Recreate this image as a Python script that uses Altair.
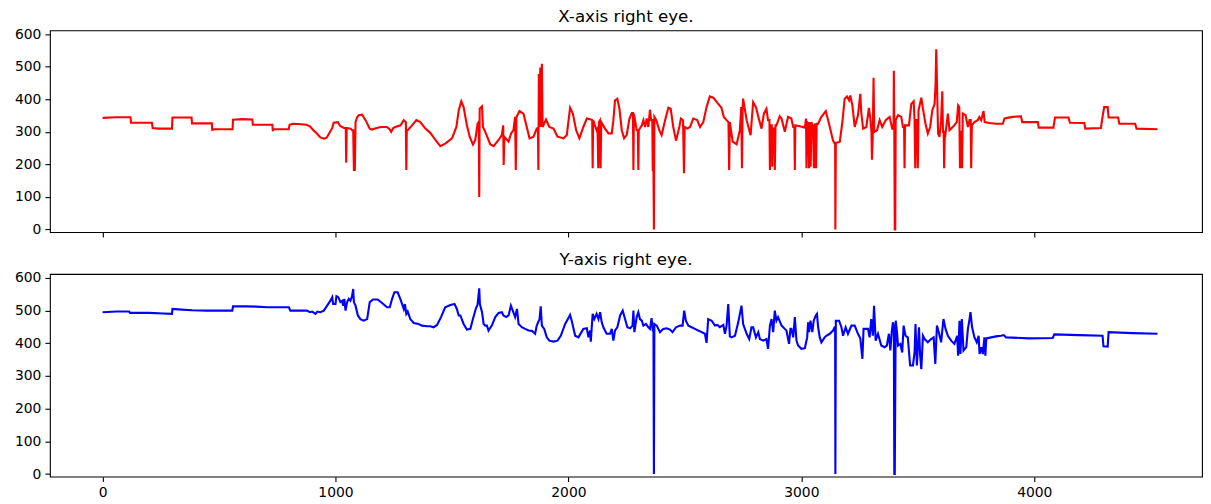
import altair as alt
import pandas as pd

# ---- X-axis (red) trace: sample index / gaze x ----
red_x = [0, 60, 120, 122, 212, 215, 240, 298, 300, 382, 384, 469, 471, 480, 558, 560, 600, 643, 645, 729,
         731, 734, 799, 803, 815, 840, 876, 890, 905, 920, 935, 950, 962, 975, 986, 992, 1010, 1020, 1036, 1044,
         1046, 1048, 1065, 1071, 1076, 1079, 1083, 1086, 1093, 1100, 1114, 1129, 1147, 1157, 1170, 1193, 1221, 1232, 1239, 1248,
         1257, 1279, 1293, 1302, 1304, 1306, 1310, 1325, 1347, 1364, 1386, 1407, 1429, 1450, 1471, 1500, 1519, 1529, 1540, 1550,
         1564, 1576, 1590, 1600, 1610, 1615, 1617, 1619, 1629, 1633, 1643, 1664, 1679, 1700, 1714, 1720, 1722, 1725, 1743, 1754,
         1764, 1771, 1774, 1777, 1790, 1807, 1821, 1833, 1850, 1864, 1869, 1871, 1873, 1875, 1879, 1881, 1886, 1889, 1904, 1918,
         1936, 1953, 1979, 1993, 2007, 2019, 2033, 2047, 2064, 2079, 2096, 2102, 2104, 2106, 2121, 2125, 2128, 2131, 2135, 2138,
         2141, 2157, 2172, 2186, 2193, 2200, 2210, 2219, 2229, 2239, 2250, 2262, 2272, 2277, 2279, 2281, 2293, 2298, 2300, 2302,
         2315, 2322, 2329, 2336, 2343, 2350, 2355, 2360, 2362, 2365, 2367, 2369, 2377, 2390, 2400, 2415, 2429, 2439, 2450, 2462,
         2476, 2483, 2492, 2496, 2499, 2510, 2522, 2536, 2553, 2565, 2579, 2593, 2607, 2622, 2643, 2657, 2667, 2679, 2687, 2690,
         2693, 2705, 2722, 2736, 2742, 2745, 2748, 2750, 2765, 2782, 2793, 2805, 2819, 2829, 2839, 2850, 2857, 2863, 2865, 2867,
         2873, 2875, 2878, 2884, 2886, 2889, 2893, 2907, 2915, 2929, 2943, 2957, 2965, 2970, 2972, 2974, 2993, 3015, 3020, 3022,
         3025, 3030, 3033, 3036, 3040, 3043, 3050, 3054, 3057, 3060, 3063, 3066, 3072, 3086, 3105, 3122, 3136, 3143, 3145, 3146,
         3148, 3150, 3165, 3176, 3186, 3196, 3205, 3210, 3219, 3229, 3243, 3253, 3257, 3265, 3279, 3290, 3296, 3301, 3303, 3306,
         3310, 3313, 3325, 3336, 3347, 3362, 3379, 3390, 3396, 3397, 3399, 3401, 3403, 3405, 3415, 3429, 3436, 3441, 3443, 3445,
         3462, 3472, 3482, 3486, 3489, 3492, 3497, 3500, 3503, 3515, 3522, 3533, 3543, 3553, 3562, 3572, 3576, 3579, 3582, 3587,
         3593, 3600, 3605, 3608, 3611, 3613, 3616, 3619, 3629, 3636, 3653, 3667, 3673, 3678, 3681, 3684, 3687, 3690, 3693, 3705,
         3715, 3722, 3727, 3729, 3732, 3743, 3757, 3764, 3772, 3782, 3787, 3807, 3836, 3865, 3872, 3907, 3943, 3948, 4015, 4019,
         4082, 4089, 4147, 4153, 4215, 4219, 4286, 4293, 4300, 4315, 4319, 4360, 4365, 4433, 4439, 4529]
red_y = [343, 345, 345, 328, 328, 312, 310, 310, 344, 344, 326, 326, 306, 308, 308, 337, 339, 338, 322, 322,
         302, 308, 308, 322, 325, 324, 322, 317, 305, 295, 283, 279, 282, 298, 312, 328, 330, 318, 312, 312,
         205, 312, 310, 305, 305, 183, 183, 330, 345, 351, 353, 336, 310, 307, 310, 315, 315, 308, 300, 312,
         315, 320, 336, 330, 183, 305, 305, 317, 336, 330, 310, 297, 275, 256, 264, 280, 315, 366, 394, 376,
         320, 285, 261, 275, 325, 330, 100, 371, 378, 315, 300, 262, 256, 275, 290, 320, 198, 285, 270, 295,
         305, 346, 183, 346, 364, 356, 315, 280, 285, 310, 312, 183, 478, 315, 498, 315, 509, 315, 338, 315,
         310, 285, 280, 290, 374, 356, 305, 280, 315, 341, 338, 336, 188, 336, 305, 310, 188, 330, 335, 188,
         330, 310, 295, 295, 336, 397, 402, 371, 305, 280, 290, 341, 358, 358, 183, 356, 305, 305, 183, 305,
         320, 336, 315, 341, 315, 368, 336, 336, 183, 183, 0, 346, 336, 305, 290, 336, 374, 371, 315, 273,
         315, 341, 336, 173, 315, 310, 315, 341, 336, 315, 330, 376, 409, 405, 386, 374, 346, 336, 330, 183,
         330, 270, 262, 305, 376, 188, 376, 402, 336, 290, 391, 376, 336, 310, 356, 371, 336, 336, 183, 320,
         320, 193, 310, 310, 183, 320, 320, 348, 341, 300, 346, 341, 315, 315, 183, 320, 317, 313, 341, 188,
         330, 325, 188, 330, 193, 330, 315, 188, 325, 320, 188, 325, 325, 346, 364, 315, 273, 264, 264, 0,
         266, 266, 270, 330, 402, 409, 397, 412, 381, 315, 351, 417, 361, 310, 315, 374, 341, 300, 214, 275,
         466, 300, 305, 336, 315, 336, 346, 310, 310, 488, 300, 0, 0, 336, 351, 346, 315, 315, 188, 320,
         320, 386, 394, 336, 188, 336, 336, 188, 366, 405, 371, 325, 295, 315, 366, 386, 442, 554, 458, 295,
         285, 336, 425, 300, 300, 188, 300, 295, 356, 305, 317, 330, 381, 376, 188, 300, 300, 188, 356, 351,
         315, 336, 336, 188, 320, 330, 336, 346, 336, 364, 330, 327, 325, 325, 341, 346, 348, 330, 330, 313,
         313, 344, 344, 328, 327, 310, 312, 346, 376, 376, 344, 344, 325, 325, 310, 308]

# ---- Y-axis (blue) trace ----
blue_x = [0, 60, 114, 118, 200, 260, 298, 300, 340, 385, 450, 557, 560, 620, 660, 707, 800, 806, 878, 890,
          900, 914, 922, 935, 950, 964, 979, 986, 990, 1000, 1004, 1012, 1021, 1028, 1033, 1038, 1043, 1050, 1057, 1064,
          1071, 1076, 1079, 1086, 1096, 1107, 1121, 1136, 1147, 1161, 1181, 1200, 1221, 1233, 1243, 1253, 1267, 1279, 1286, 1293,
          1298, 1304, 1310, 1321, 1336, 1357, 1371, 1393, 1407, 1421, 1436, 1453, 1471, 1493, 1511, 1521, 1529, 1536, 1550, 1564,
          1579, 1590, 1603, 1610, 1617, 1620, 1629, 1636, 1643, 1650, 1657, 1671, 1686, 1700, 1714, 1721, 1733, 1743, 1753, 1761,
          1771, 1779, 1786, 1800, 1814, 1829, 1843, 1857, 1864, 1876, 1881, 1886, 1896, 1907, 1918, 1936, 1953, 1967, 1986, 2000,
          2007, 2014, 2029, 2043, 2064, 2079, 2086, 2093, 2096, 2104, 2111, 2121, 2129, 2136, 2143, 2150, 2164, 2179, 2186, 2193,
          2200, 2210, 2222, 2233, 2243, 2253, 2265, 2275, 2279, 2283, 2293, 2300, 2307, 2315, 2322, 2333, 2343, 2350, 2357, 2362,
          2365, 2367, 2369, 2379, 2393, 2407, 2422, 2436, 2447, 2462, 2479, 2490, 2497, 2504, 2515, 2529, 2543, 2557, 2572, 2586,
          2593, 2600, 2615, 2629, 2640, 2650, 2665, 2672, 2679, 2686, 2693, 2700, 2715, 2729, 2743, 2750, 2765, 2776, 2786, 2793,
          2805, 2815, 2822, 2836, 2850, 2857, 2865, 2872, 2879, 2886, 2893, 2900, 2915, 2929, 2936, 2947, 2953, 2957, 2965, 2972,
          2979, 2986, 3000, 3015, 3025, 3029, 3033, 3039, 3047, 3053, 3062, 3067, 3072, 3079, 3086, 3100, 3107, 3122, 3136, 3143,
          3145, 3146, 3148, 3162, 3172, 3179, 3190, 3200, 3215, 3229, 3243, 3253, 3262, 3267, 3286, 3293, 3300, 3307, 3312, 3319,
          3329, 3343, 3357, 3367, 3376, 3382, 3388, 3393, 3397, 3399, 3401, 3405, 3410, 3415, 3425, 3433, 3439, 3447, 3457, 3467,
          3479, 3486, 3490, 3496, 3505, 3510, 3515, 3522, 3529, 3543, 3557, 3568, 3575, 3582, 3590, 3600, 3610, 3619, 3629, 3643,
          3657, 3669, 3673, 3679, 3683, 3689, 3696, 3708, 3715, 3722, 3726, 3733, 3743, 3753, 3761, 3765, 3772, 3779, 3786, 3790,
          3794, 3815, 3836, 3857, 3869, 3879, 3979, 4079, 4086, 4193, 4293, 4297, 4315, 4319, 4422, 4529]
blue_y = [495, 497, 497, 493, 493, 491, 490, 505, 503, 501, 500, 500, 513, 513, 512, 510, 510, 500, 500, 495,
          497, 490, 497, 495, 500, 515, 531, 541, 520, 520, 544, 541, 526, 530, 515, 536, 500, 526, 536, 530,
          544, 566, 526, 515, 485, 474, 469, 474, 526, 534, 534, 523, 510, 510, 536, 556, 556, 534, 520, 505,
          520, 490, 497, 474, 462, 459, 454, 452, 452, 449, 456, 480, 510, 517, 520, 505, 485, 485, 459, 442,
          444, 474, 507, 518, 568, 520, 495, 459, 454, 454, 439, 454, 480, 493, 495, 485, 480, 485, 515, 500,
          480, 505, 459, 449, 444, 439, 438, 429, 454, 474, 513, 454, 444, 418, 408, 405, 408, 423, 459, 477,
          487, 469, 423, 418, 444, 446, 418, 439, 405, 490, 474, 490, 474, 495, 464, 449, 429, 429, 444, 408,
          439, 449, 485, 500, 474, 449, 446, 454, 500, 434, 480, 495, 474, 469, 454, 459, 449, 444, 477, 439,
          439, 0, 459, 454, 434, 444, 446, 442, 434, 449, 454, 454, 500, 469, 454, 449, 444, 439, 434, 429,
          401, 474, 469, 454, 456, 449, 456, 429, 454, 520, 421, 418, 423, 464, 515, 459, 429, 413, 449, 449,
          418, 434, 413, 408, 413, 383, 454, 474, 434, 500, 469, 480, 454, 444, 439, 398, 444, 444, 418, 480,
          408, 393, 383, 385, 418, 464, 434, 469, 434, 469, 485, 490, 449, 418, 403, 418, 423, 429, 439, 449,
          449, 0, 469, 469, 449, 423, 449, 429, 454, 454, 429, 415, 352, 444, 444, 418, 474, 423, 515, 408,
          429, 393, 388, 393, 429, 378, 434, 464, 454, 0, 0, 469, 439, 393, 398, 372, 454, 423, 418, 332,
          332, 372, 459, 332, 449, 362, 321, 423, 413, 403, 413, 418, 337, 454, 434, 403, 474, 444, 423, 408,
          398, 423, 362, 469, 367, 474, 378, 388, 444, 474, 495, 449, 418, 403, 423, 367, 388, 367, 418, 362,
          415, 418, 421, 423, 425, 418, 415, 416, 427, 425, 423, 391, 390, 434, 431, 429]

x_ticks = [0, 1000, 2000, 3000, 4000]
y_ticks = [0, 100, 200, 300, 400, 500, 600]
titles = ["X-axis right eye.", "Y-axis right eye."]

red_df = pd.DataFrame({"t": red_x, "v": red_y})
blue_df = pd.DataFrame({"t": blue_x, "v": blue_y})

FONT = "DejaVu Sans"
x_dom = [-226, 4720]
y_dom = [-8, 612]
PLOT_W = 1154


def panel(df, color, title, show_labels, h):
    return alt.Chart(df, title=alt.TitleParams(title, fontSize=16.7, font=FONT, fontWeight="normal",
                                               color="black", offset=2)).mark_line(
        color=color, strokeWidth=2.1, clip=True
    ).encode(
        x=alt.X("t:Q", scale=alt.Scale(domain=x_dom, nice=False, zero=False),
                axis=alt.Axis(values=x_ticks, labels=show_labels, title=None, format="d")),
        y=alt.Y("v:Q", scale=alt.Scale(domain=y_dom, nice=False, zero=False),
                axis=alt.Axis(values=y_ticks, title=None, format="d")),
        order="t:Q",
    ).properties(width=PLOT_W, height=h)


top = panel(red_df, "#ff0000", titles[0], False, 202)
bottom = panel(blue_df, "#0000ff", titles[1], True, 203)

chart = alt.vconcat(top, bottom, spacing=12).configure_view(
    stroke="black", strokeWidth=1.1
).configure_axis(
    domain=False, grid=False, tickColor="black", tickSize=5, tickWidth=1.1,
    labelFont=FONT, labelFontSize=13.9, labelColor="black", labelPadding=4
).properties(padding={"top": -1, "left": 5, "right": 0, "bottom": 0})

chart.save("out.html", embed_options={"renderer": "svg", "actions": False})
